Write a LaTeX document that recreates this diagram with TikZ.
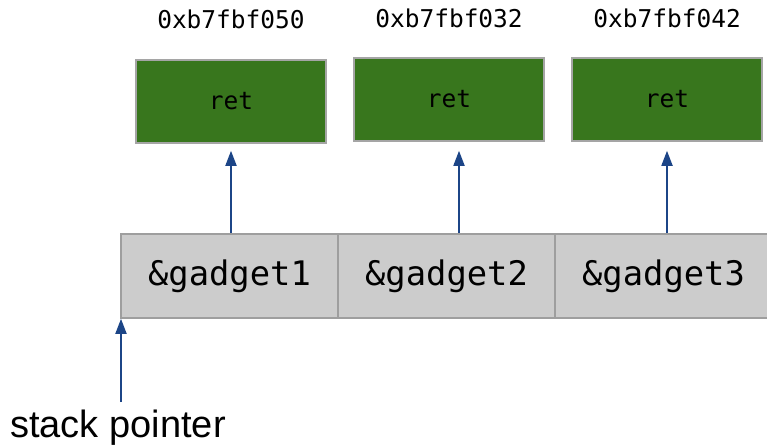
\documentclass[tikz,border=0pt]{standalone}
\usepackage{fontspec}
\setmainfont{Liberation Sans}
\setmonofont{DejaVu Sans Mono}
\usetikzlibrary{arrows.meta}
\definecolor{boxgreen}{HTML}{38761D}
\definecolor{boxedge}{HTML}{A5A5A5}
\definecolor{cellgray}{HTML}{CCCCCC}
\definecolor{celledge}{HTML}{9E9E9E}
\definecolor{arrowblue}{HTML}{1C4587}
\tikzset{
  retbox/.style={draw=boxedge, line width=1.6pt, fill=boxgreen, minimum width=190pt, minimum height=83pt, inner sep=0pt, font=\ttfamily\fontsize{24.5}{28}\selectfont},
  addr/.style={inner sep=0pt, font=\ttfamily\fontsize{24.5}{28}\selectfont},
  cell/.style={draw=celledge, line width=1.6pt, fill=cellgray, minimum width=217pt, minimum height=84pt, inner sep=0pt, font=\ttfamily\fontsize{33.8}{38}\selectfont},
  arr/.style={draw=arrowblue, line width=1.8pt, -{Triangle[width=11pt,length=15pt]}}
}
\begin{document}
\begin{tikzpicture}[x=1pt,y=-1pt]
\useasboundingbox (0,0) rectangle (767,446);
% address labels
\node[addr] (l1) at (231,19) {0xb7fbf050};
\node[addr] (l2) at (449,18) {0xb7fbf032};
\node[addr] (l3) at (667,18) {0xb7fbf042};
% ret boxes
\node[retbox] (r1) at (231,101.5) {ret};
\node[retbox] (r2) at (449,99.5) {ret};
\node[retbox] (r3) at (667,99.5) {ret};
% stack cells
\node[cell] (g1) at (229.5,276) {\&gadget1};
\node[cell] (g2) at (446.5,276) {\&gadget2};
\node[cell] (g3) at (663.5,276) {\&gadget3};
% arrow columns
\coordinate (a1) at (231,0);
\coordinate (a2) at (459,0);
\coordinate (a3) at (667,0);
\draw[arr, shorten >=7pt] (g1.north -| a1) -- (r1.south -| a1);
\draw[arr, shorten >=9pt] (g2.north -| a2) -- (r2.south -| a2);
\draw[arr, shorten >=9pt] (g3.north -| a3) -- (r3.south -| a3);
% stack pointer
\node[inner sep=0pt, font=\fontsize{38}{41}\selectfont, anchor=base] (sp) at (118,437) {stack pointer};
\coordinate (spt) at (121,402);
\draw[arr] (spt) -- (spt |- g1.south);
\end{tikzpicture}
\end{document}
